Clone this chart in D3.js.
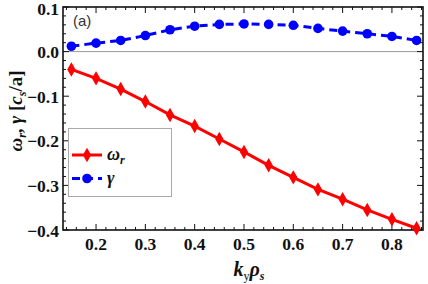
<!DOCTYPE html>
<html>
<head>
<meta charset="utf-8">
<script src="https://cdn.jsdelivr.net/npm/d3@7"></script>
<style>
  body { margin: 0; background: #fff; }
  svg { display: block; }
  .tick-label { font-family: "Liberation Serif", serif; font-weight: bold; font-size: 17.5px; fill: #111; }
</style>
</head>
<body>
<div id="chart"></div>
<script>
// data
const ky = [0.15, 0.2, 0.25, 0.3, 0.35, 0.4, 0.45, 0.5, 0.55, 0.6, 0.65, 0.7, 0.75, 0.8, 0.85];
const omegaR = [-0.040, -0.060, -0.084, -0.112, -0.142, -0.167, -0.196, -0.225, -0.255, -0.282, -0.309, -0.331, -0.355, -0.376, -0.396];
const gamma = [0.012, 0.019, 0.025, 0.036, 0.049, 0.057, 0.061, 0.062, 0.061, 0.059, 0.052, 0.046, 0.040, 0.034, 0.025];
const xTicks = [0.2, 0.3, 0.4, 0.5, 0.6, 0.7, 0.8];
const yTicks = [0.1, 0.0, -0.1, -0.2, -0.3, -0.4];

// dimensions
const width = 428;
const height = 284;
const MARGIN_TOP = 7;
const MARGIN_BOTTOM = 54;
const MARGIN_LEFT = 63;
const MARGIN_RIGHT = 5;

const svg = d3.select('#chart').append('svg')
    .attr('width', width)
    .attr('height', height);

const x = d3.scaleLinear().domain([0.133, 0.863]).range([MARGIN_LEFT, width - MARGIN_RIGHT]);
const y = d3.scaleLinear().domain([-0.4, 0.1]).range([height - MARGIN_BOTTOM, MARGIN_TOP]);

// zero line
svg.append('line')
    .attr('x1', x.range()[0]).attr('x2', x.range()[1])
    .attr('y1', y(0)).attr('y2', y(0))
    .attr('stroke', '#999').attr('stroke-width', 1);

// ticks on all four sides (inside)
const xMinor = d3.range(0.14, 0.862, 0.02).map(v => +v.toFixed(2));
const yMinor = d3.range(-0.4, 0.1001, 0.02).map(v => +v.toFixed(2));
const isMajor = (v, list) => list.some(t => Math.abs(t - v) < 1e-6);

const $ticks = svg.append('g').attr('stroke', '#111').attr('stroke-width', 1);
xMinor.forEach(v => {
    const len = isMajor(v, xTicks) ? 6 : 3;
    $ticks.append('line').attr('x1', x(v)).attr('x2', x(v))
        .attr('y1', y.range()[0]).attr('y2', y.range()[0] - len);
    $ticks.append('line').attr('x1', x(v)).attr('x2', x(v))
        .attr('y1', y.range()[1]).attr('y2', y.range()[1] + len);
});
yMinor.forEach(v => {
    const len = isMajor(v, yTicks) ? 6 : 3;
    $ticks.append('line').attr('y1', y(v)).attr('y2', y(v))
        .attr('x1', x.range()[0]).attr('x2', x.range()[0] + len);
    $ticks.append('line').attr('y1', y(v)).attr('y2', y(v))
        .attr('x1', x.range()[1]).attr('x2', x.range()[1] - len);
});

// frame
svg.append('rect')
    .attr('x', x.range()[0]).attr('y', y.range()[1])
    .attr('width', x.range()[1] - x.range()[0])
    .attr('height', y.range()[0] - y.range()[1])
    .attr('fill', 'none').attr('stroke', '#111').attr('stroke-width', 1.6);

// tick labels
const fmt = v => (v < 0 ? '\u2212' : '') + Math.abs(v).toFixed(1);
svg.selectAll('.xl').data(xTicks).enter().append('text')
    .attr('class', 'tick-label')
    .attr('x', d => x(d)).attr('y', y.range()[0] + 20)
    .attr('text-anchor', 'middle')
    .text(d => d.toFixed(1));
svg.selectAll('.yl').data(yTicks).enter().append('text')
    .attr('class', 'tick-label')
    .attr('x', x.range()[0] - 4).attr('y', d => Math.max(y(d) + 6.5, 15))
    .attr('text-anchor', 'end')
    .text(fmt);

// series
const omegaPts = ky.map((k, i) => [k, omegaR[i]]);
const gammaPts = ky.map((k, i) => [k, gamma[i]]);
const line = d3.line().x(d => x(d[0])).y(d => y(d[1]));

svg.append('path').datum(omegaPts)
    .attr('d', line).attr('fill', 'none')
    .attr('stroke', '#ff0000').attr('stroke-width', 3);
svg.append('path').datum(gammaPts)
    .attr('d', line).attr('fill', 'none')
    .attr('stroke', '#0000ff').attr('stroke-width', 3)
    .attr('stroke-dasharray', '8,5');

const diamond = d3.symbol().type(d3.symbolDiamond).size(60);
svg.selectAll('.om').data(omegaPts).enter().append('path')
    .attr('d', diamond)
    .attr('transform', d => `translate(${x(d[0])},${y(d[1])})`)
    .attr('fill', '#ff0000');
svg.selectAll('.ga').data(gammaPts).enter().append('circle')
    .attr('cx', d => x(d[0])).attr('cy', d => y(d[1])).attr('r', 4.8)
    .attr('fill', '#0000ff');

// panel label
svg.append('text')
    .attr('x', 73).attr('y', 26)
    .attr('font-family', '"Liberation Sans", Arial, sans-serif')
    .attr('font-size', 15).attr('fill', '#333')
    .text('(a)');

// legend
const $leg = svg.append('g');
$leg.append('rect')
    .attr('x', 68.5).attr('y', 128.5).attr('width', 103).attr('height', 68)
    .attr('fill', '#fff').attr('stroke', '#aaa').attr('stroke-width', 1);
const legItems = [
    { y: 155, color: '#ff0000', dash: null, marker: 'diamond', label: 'ω', sub: 'r' },
    { y: 178.5, color: '#0000ff', dash: '8,5', marker: 'circle', label: 'γ', sub: null }
];
legItems.forEach(it => {
    $leg.append('line')
        .attr('x1', 72).attr('x2', 102).attr('y1', it.y).attr('y2', it.y)
        .attr('stroke', it.color).attr('stroke-width', 3)
        .attr('stroke-dasharray', it.dash);
    if (it.marker === 'diamond') {
        $leg.append('path').attr('d', diamond)
            .attr('transform', `translate(87,${it.y})`).attr('fill', it.color);
    } else {
        $leg.append('circle').attr('cx', 87).attr('cy', it.y).attr('r', 4.8).attr('fill', it.color);
    }
    const t = $leg.append('text')
        .attr('x', 107).attr('y', it.y + 5)
        .attr('font-family', '"Liberation Serif", serif')
        .attr('font-weight', 'bold').attr('font-style', 'italic')
        .attr('font-size', 18).attr('fill', '#111');
    t.append('tspan').text(it.label);
    if (it.sub) t.append('tspan').attr('font-size', 12).attr('dy', 4).text(it.sub);
});

// axis titles
const yt = svg.append('text')
    .attr('transform', 'translate(22,111) rotate(-90)')
    .attr('text-anchor', 'middle')
    .attr('font-family', '"Liberation Serif", serif')
    .attr('font-weight', 'bold').attr('font-size', 19).attr('fill', '#111');
yt.append('tspan').attr('font-style', 'italic').text('ω');
yt.append('tspan').attr('font-style', 'italic').attr('font-size', 12).attr('dy', 4).text('r');
yt.append('tspan').attr('dy', -4).text(', ');
yt.append('tspan').attr('font-style', 'italic').text('γ');
yt.append('tspan').text(' [');
yt.append('tspan').attr('font-style', 'italic').text('c');
yt.append('tspan').attr('font-style', 'italic').attr('font-size', 12).attr('dy', 4).text('s');
yt.append('tspan').attr('dy', -4).text('/a]');

const xt = svg.append('text')
    .attr('x', 249).attr('y', 276)
    .attr('text-anchor', 'middle')
    .attr('font-family', '"Liberation Serif", serif')
    .attr('font-weight', 'bold').attr('font-style', 'italic')
    .attr('font-size', 20).attr('fill', '#111');
xt.append('tspan').text('k');
xt.append('tspan').attr('font-size', 12).attr('font-style', 'normal').attr('font-weight', 'normal').attr('dy', 4).text('y');
xt.append('tspan').attr('dy', -4).text('ρ');
xt.append('tspan').attr('font-size', 12).attr('dy', 4).text('s');
</script>
</body>
</html>
